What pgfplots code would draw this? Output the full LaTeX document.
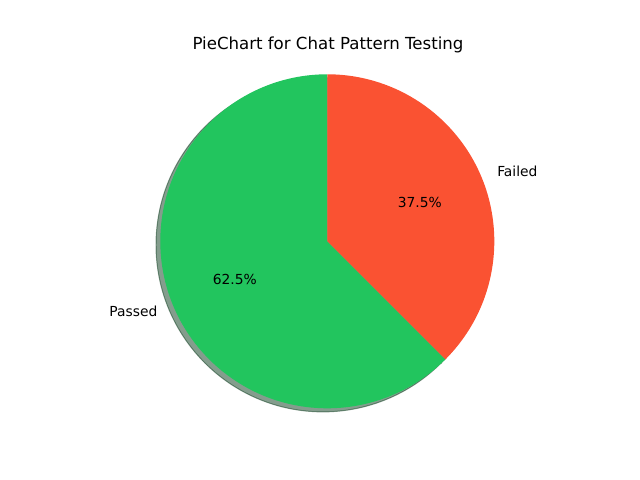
\documentclass[border=0pt]{standalone}
\usepackage{pgfplots}
\pgfplotsset{compat=1.18}
\usepackage{pgfplotstable}
\usetikzlibrary{calc}
\usepackage{fontspec}
\setmainfont{DejaVu Sans}
\definecolor{passgreen}{RGB}{34,197,94}
\definecolor{failred}{RGB}{250,82,50}
\definecolor{passshadow}{RGB}{10,59,28}
\definecolor{failshadow}{RGB}{75,25,15}
\pgfplotstableread{
label value
Passed 5
Failed 3
}\piedata
\begin{document}
\begin{tikzpicture}
\pgfplotstablegetelem{0}{value}\of\piedata \let\vA\pgfplotsretval
\pgfplotstablegetelem{1}{value}\of\piedata \let\vB\pgfplotsretval
\pgfmathsetmacro{\tot}{\vA+\vB}
\pgfmathsetmacro{\aA}{360*\vA/\tot}
\pgfmathsetmacro{\startA}{90}
\pgfmathsetmacro{\endA}{90+\aA}
\pgfmathsetmacro{\endB}{450}
\pgfmathsetmacro{\midA}{(\startA+\endA)/2}
\pgfmathsetmacro{\midB}{(\endA+\endB)/2}
\pgfmathsetmacro{\pA}{100*\vA/\tot}
\pgfmathsetmacro{\pB}{100*\vB/\tot}
\begin{axis}[
  width=6.4in, height=4.8in, scale only axis,
  xmin=0, xmax=640, ymin=0, ymax=480,
  hide axis, clip=false,
]
\path (axis cs:0,0) rectangle (axis cs:640,480);
\def\cx{327.3}
\def\cy{238.7}
\def\R{1.67in}
% shadows
\filldraw[fill=passshadow, draw=passshadow, fill opacity=0.5, draw opacity=0.5, line width=0.7pt]
  (axis cs:\cx-4.3,\cy-3.6) -- ++(\startA:\R) arc[start angle=\startA, end angle=\endA, radius=\R] -- cycle;
\filldraw[fill=failshadow, draw=failshadow, fill opacity=0.5, draw opacity=0.5, line width=0.7pt]
  (axis cs:\cx-4.3,\cy-3.6) -- ++(\endA:\R) arc[start angle=\endA, end angle=\endB, radius=\R] -- cycle;
% wedges
\fill[passgreen] (axis cs:\cx,\cy) -- ++(\startA:\R) arc[start angle=\startA, end angle=\endA, radius=\R] -- cycle;
\fill[failred] (axis cs:\cx,\cy) -- ++(\endA:\R) arc[start angle=\endA, end angle=\endB, radius=\R] -- cycle;
% labels
\node[anchor=east, font=\fontsize{10}{12}\selectfont, inner sep=0pt] at ($(axis cs:\cx,\cy)+(\midA:1.1*\R)$) {Passed};
\node[anchor=west, font=\fontsize{10}{12}\selectfont, inner sep=0pt] at ($(axis cs:\cx,\cy)+(\midB:1.1*\R)$) {Failed};
\node[font=\fontsize{10}{12}\selectfont, inner sep=0pt] at ($(axis cs:\cx,\cy)+(\midA:0.6*\R)$) {\pgfmathprintnumber[fixed,precision=1,fixed zerofill,assume math mode=true]{\pA}\%};
\node[font=\fontsize{10}{12}\selectfont, inner sep=0pt] at ($(axis cs:\cx,\cy)+(\midB:0.6*\R)$) {\pgfmathprintnumber[fixed,precision=1,fixed zerofill,assume math mode=true]{\pB}\%};
\node[anchor=base, font=\fontsize{12}{14}\selectfont, inner sep=0pt] at (axis cs:328,430.7) {PieChart for Chat Pattern Testing};
\end{axis}
\end{tikzpicture}
\end{document}
